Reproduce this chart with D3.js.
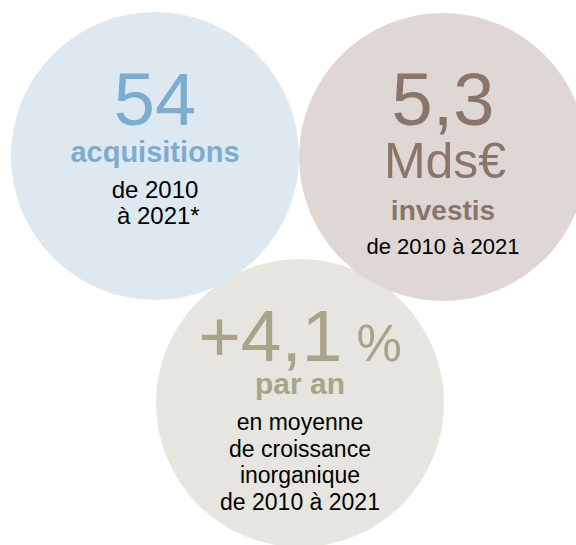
<!DOCTYPE html>
<html>
<head>
  <meta charset="utf-8">
  <title>Chiffres clés acquisitions</title>
  <script src="https://d3js.org/d3.v7.min.js"></script>
  <style>
    body { margin: 0; background: #fff; }
    text { font-family: "Liberation Sans", Arial, sans-serif; }
  </style>
</head>
<body>
<script>
// chart data
var figures   = ["54", "5,3", "+4,1"];
var units     = ["", "Mds€", "%"];
var keywords  = ["acquisitions", "investis", "par an"];
var notes     = [["de 2010", " à 2021*"], ["de 2010 à 2021"],
                 ["en moyenne", "de croissance", "inorganique", "de 2010 à 2021"]];
var fills     = ["#dee8f1", "#ded7d4", "#e6e5df"];
var inks      = ["#7dacce", "#8b7468", "#a9a488"];

var width = 576, height = 545;

var svg = d3.select("body").append("svg")
    .attr("width", width)
    .attr("height", height);

// layout of the three bubbles (centre, radius, type sizes)
var layout = [
  {cx: 155, cy: 156, r: 144, big: 74, unitSize: 0,  kw: 29, note: 24, bigY: -31, kwY: 6,  noteY: 42, lead: 26},
  {cx: 443, cy: 157, r: 144, big: 74, unitSize: 50, kw: 28, note: 22, bigY: -32, kwY: 63, noteY: 97, lead: 26},
  {cx: 300, cy: 403, r: 144, big: 73, unitSize: 51, kw: 30, note: 23, bigY: -42, kwY: -9, noteY: 27, lead: 26.5}
];

var items = figures.map(function(f, i) {
  return {figure: f, unit: units[i], keyword: keywords[i], note: notes[i],
          fill: fills[i], ink: inks[i], L: layout[i]};
});

// bottom bubble sits behind the two upper ones
var order = [2, 0, 1];

var g = svg.selectAll("g.bubble")
  .data(order.map(function(i) { return items[i]; }))
  .enter().append("g")
    .attr("class", "bubble")
    .attr("transform", function(d) { return "translate(" + d.L.cx + "," + d.L.cy + ")"; });

g.append("circle")
  .attr("r", function(d) { return d.L.r; })
  .attr("fill", function(d) { return d.fill; });

// big figure
var big = g.append("text")
  .attr("text-anchor", "middle")
  .attr("y", function(d) { return d.L.bigY; })
  .attr("fill", function(d) { return d.ink; });

big.append("tspan")
  .attr("font-size", function(d) { return d.L.big; })
  .text(function(d) { return d.figure; });

// percentage sign rides on the same line, smaller
big.filter(function(d) { return d.unit === "%"; })
  .append("tspan")
  .attr("font-size", function(d) { return d.L.unitSize; })
  .text(function(d) { return " " + d.unit; });

// unit on its own line (Mds€)
g.filter(function(d) { return d.unit && d.unit !== "%"; })
  .append("text")
  .attr("text-anchor", "middle")
  .attr("x", 2)
  .attr("y", 21)
  .attr("font-size", function(d) { return d.L.unitSize; })
  .attr("fill", function(d) { return d.ink; })
  .text(function(d) { return d.unit; });

// bold keyword
g.append("text")
  .attr("text-anchor", "middle")
  .attr("y", function(d) { return d.L.kwY; })
  .attr("font-size", function(d) { return d.L.kw; })
  .attr("font-weight", "bold")
  .attr("fill", function(d) { return d.ink; })
  .text(function(d) { return d.keyword; });

// black notes
g.each(function(d) {
  d3.select(this).selectAll("text.note")
    .data(d.note)
    .enter().append("text")
      .attr("class", "note")
      .attr("text-anchor", "middle")
      .attr("y", function(t, j) { return d.L.noteY + j * d.L.lead; })
      .attr("font-size", d.L.note)
      .attr("fill", "#000")
      .attr("xml:space", "preserve")
      .text(function(t) { return t; });
});
</script>
</body>
</html>
